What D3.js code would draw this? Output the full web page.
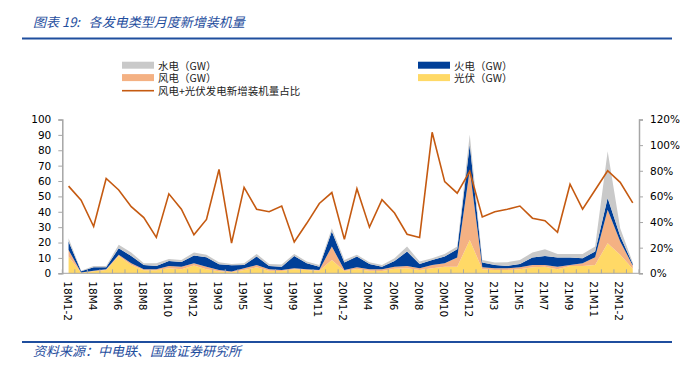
<!DOCTYPE html>
<html lang="zh">
<head>
<meta charset="utf-8">
<title>各发电类型月度新增装机量</title>
<script src="https://cdn.jsdelivr.net/npm/d3@7"></script>
<style>
  body { margin: 0; background: #fff; }
  svg { display: block; }
  .axis text { font-family: "DejaVu Sans", sans-serif; font-size: 10.5px; fill: #000; }
  .axis path, .axis line { stroke: #a6a6a6; }
  .cjk { font-family: "Noto Sans CJK SC", sans-serif; }
</style>
</head>
<body>
<script>
// 月份
var categories = [
  "18M1-2","18M3","18M4","18M5","18M6","18M7","18M8","18M9","18M10","18M11","18M12",
  "19M1-2","19M3","19M4","19M5","19M6","19M7","19M8","19M9","19M10","19M11","19M12",
  "20M1-2","20M3","20M4","20M5","20M6","20M7","20M8","20M9","20M10","20M11","20M12",
  "21M1-2","21M3","21M4","21M5","21M6","21M7","21M8","21M9","21M10","21M11","21M12",
  "22M1-2","22M3"
];
// GW
var solar   = [11,0.3,1.3,2.2,11.3,5.4,2,2,3.3,2.6,5,2.6,1.3,0.7,2.2,3.9,1.7,1.5,2.6,2.2,1.7,8.7,1.5,2.8,1.7,1.5,3,3.3,2.2,3.3,4.3,4.3,21.7,2.6,2.2,2.2,2.6,3.9,4.3,2.6,4.8,4.8,5.4,19.6,12,3];
var wind    = [4.2,0.2,0.4,0.4,0.7,1.1,0.6,0.6,1.5,1.7,1.5,1.7,0.9,0.4,1.1,1.5,0.9,0.7,0.7,0.4,0.5,8.7,0.7,1.1,0.9,1.1,1.3,1.5,1.1,2.1,2.2,5.9,45.7,1.3,1.1,1.1,1.3,1.5,1.1,1.7,0.6,1.7,5,21.7,8.7,2];
var thermal = [5.5,0.9,2.2,1.3,4.3,4.8,2.8,2.2,3.2,3.1,5,6.1,3.7,4.1,2.1,5.5,2.2,2.1,8,3.9,2.1,9.8,4.8,7,3.5,1.7,3.7,9.3,2.8,3.3,4.4,5.5,16.3,3.1,2.1,1.5,2.2,4.8,5.9,5.9,4.8,3.3,3.7,7.6,3.6,1];
var hydro   = [2.1,0.3,0.9,0.9,2.2,2.2,1.1,1.7,1.3,1.3,2,1.6,1.3,0.9,1.1,1.7,1.3,1.4,1.3,1.1,1.1,2.1,1.7,1.1,1.1,1.1,1.8,3.3,1.5,1.1,1.7,1.7,6.5,1.7,1.6,2.4,2.6,3.3,4.4,2.4,2.4,2.8,3.3,30.4,5,1];
// 风电+光伏占比 (%)
var ratio   = [68,57,36.5,74,65,52,43.5,28,62,50,30,42,81,23.5,67,50,48,52.5,24.5,39,54.5,63,26.5,66,36,57.5,47,30.5,28,110,71.5,62.5,79.5,44,48,50,52.5,43,41,32,69.5,50,65,80,71,55];
var leftTicks  = d3.range(0, 101, 10);
var rightTicks = [0, 20, 40, 60, 80, 100, 120];

var W = 690, H = 369;
var L = 62.3, R = 639, T = 119.5, B = 273.3;
var blue = "#1f4e9e";

var svg = d3.select("body").append("svg").attr("width", W).attr("height", H);

// 标题
svg.append("text").attr("class", "cjk")
  .attr("x", 33).attr("y", 27)
  .attr("font-size", 13).attr("font-style", "italic")
  .attr("fill", blue)
  .style("white-space", "pre")
  .text("图表 19:   各发电类型月度新增装机量");
svg.append("line").attr("x1", 22).attr("x2", 672).attr("y1", 38.5).attr("y2", 38.5)
  .attr("stroke", blue).attr("stroke-width", 2);

// 来源
svg.append("line").attr("x1", 22).attr("x2", 672).attr("y1", 342).attr("y2", 342)
  .attr("stroke", blue).attr("stroke-width", 2);
svg.append("text").attr("class", "cjk")
  .attr("x", 33).attr("y", 356)
  .attr("font-size", 13).attr("font-style", "italic")
  .attr("fill", blue)
  .text("资料来源：中电联、国盛证券研究所");

var colors = { solar: "#ffd966", wind: "#f4b183", thermal: "#003f98", hydro: "#c9c9c9" };
var rows = categories.map(function(c, i) {
  return { cat: c, solar: solar[i], wind: wind[i], thermal: thermal[i], hydro: hydro[i] };
});

var x = d3.scaleBand().domain(categories).range([L, R]);
var y = d3.scaleLinear().domain([0, 100]).range([B, T]);
var y2 = d3.scaleLinear().domain([0, 120]).range([B, T]);
var cx = function(c) { return x(c) + x.bandwidth() / 2; };

var stack = d3.stack().keys(["solar", "wind", "thermal", "hydro"]);
var layers = stack(rows);

var area = d3.area()
  .x(function(d) { return cx(d.data.cat); })
  .y0(function(d) { return y(d[0]); })
  .y1(function(d) { return y(d[1]); });

svg.append("g").selectAll("path")
  .data(layers)
  .enter().append("path")
  .attr("d", area)
  .attr("fill", function(d) { return colors[d.key]; });

// x轴
var gx = svg.append("g").attr("class", "axis");
gx.append("line").attr("x1", L).attr("x2", R).attr("y1", B).attr("y2", B)
  .attr("stroke", "#808080");
gx.selectAll(".tk")
  .data(categories.concat(["end"]))
  .enter().append("line")
  .attr("x1", function(d) { return d === "end" ? R : x(d); })
  .attr("x2", function(d) { return d === "end" ? R : x(d); })
  .attr("y1", B).attr("y2", B - 4)
  .attr("stroke", "#808080");
gx.selectAll("text")
  .data(categories.filter(function(d, i) { return i % 2 === 0; }))
  .enter().append("text")
  .attr("transform", function(d) { return "translate(" + (cx(d) - 1) + "," + (B + 8) + ") rotate(90)"; })
  .attr("dominant-baseline", "central")
  .attr("font-size", "10px")
  .text(function(d) { return d; });

// 左轴
svg.append("g").attr("class", "axis")
  .attr("transform", "translate(" + L + ",0)")
  .call(d3.axisLeft(y).tickValues(leftTicks).tickSize(4).tickPadding(7))
  .call(function(g) { g.select(".domain").attr("stroke-width", 1.5); });

// 右轴
svg.append("g").attr("class", "axis")
  .attr("transform", "translate(" + R + ",0)")
  .call(d3.axisRight(y2).tickValues(rightTicks).tickSize(4).tickPadding(7)
    .tickFormat(function(d) { return d + "%"; }))
  .call(function(g) { g.select(".domain").attr("stroke-width", 1.5); });

// 占比折线
var line = d3.line()
  .x(function(d, i) { return cx(categories[i]); })
  .y(function(d) { return y2(d); });
svg.append("path").datum(ratio)
  .attr("d", line)
  .attr("fill", "none")
  .attr("stroke", "#c55a11")
  .attr("stroke-width", 1.6);

// 图例
var legend = [
  { label: "水电（GW）", color: colors.hydro, x: 122, y: 65.2, type: "rect" },
  { label: "风电（GW）", color: colors.wind, x: 122, y: 77.6, type: "rect" },
  { label: "风电+光伏发电新增装机量占比", color: "#c55a11", x: 122, y: 90.7, type: "line" },
  { label: "火电（GW）", color: colors.thermal, x: 418, y: 65.2, type: "rect" },
  { label: "光伏（GW）", color: colors.solar, x: 418, y: 77.6, type: "rect" }
];
var lg = svg.append("g").selectAll("g").data(legend).enter().append("g");
lg.filter(function(d) { return d.type === "rect"; }).append("rect")
  .attr("x", function(d) { return d.x; }).attr("y", function(d) { return d.y - 3.5; })
  .attr("width", 32).attr("height", 7)
  .attr("fill", function(d) { return d.color; });
lg.filter(function(d) { return d.type === "line"; }).append("line")
  .attr("x1", function(d) { return d.x; }).attr("x2", function(d) { return d.x + 32; })
  .attr("y1", function(d) { return d.y; }).attr("y2", function(d) { return d.y; })
  .attr("stroke", function(d) { return d.color; }).attr("stroke-width", 1.6);
lg.append("text").attr("class", "cjk")
  .attr("x", function(d) { return d.x + 36; })
  .attr("y", function(d) { return d.y; })
  .attr("dominant-baseline", "central")
  .attr("font-size", 10.5).attr("fill", "#222")
  .text(function(d) { return d.label; });
</script>
</body>
</html>
